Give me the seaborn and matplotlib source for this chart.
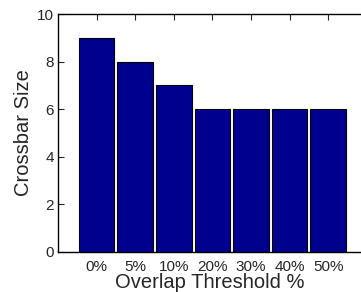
import matplotlib
matplotlib.use("Agg")
import matplotlib.pyplot as plt
import seaborn as sns
import pandas as pd

# data
thresholds = ["0%", "5%", "10%", "20%", "30%", "40%", "50%"]
crossbar_size = [9, 8, 7, 6, 6, 6, 6]

df = pd.DataFrame({"threshold": thresholds, "size": crossbar_size})

sns.set_style("white")
plt.rcParams["font.family"] = ["Liberation Sans", "DejaVu Sans"]

fig = plt.figure(figsize=(3.61, 2.92), dpi=100)
ax = fig.add_axes([0.1607, 0.137, 0.8393, 0.815])

sns.barplot(data=df, x="threshold", y="size", ax=ax, color="#00008F",
            saturation=1, width=0.92, edgecolor="black", linewidth=0.8)

ax.set_xlim(-1, 6.85)
ax.set_ylim(0, 10)
ax.set_yticks([0, 2, 4, 6, 8, 10])
ax.set_xlabel("Overlap Threshold %", fontsize=14.5, labelpad=-1)
ax.set_ylabel("Crossbar Size", fontsize=14.5, labelpad=3)
ax.tick_params(axis="both", direction="in", length=4, width=0.8,
               labelsize=11, top=True, left=True, bottom=True, pad=3)
ax.tick_params(axis="x", pad=6)

for side in ["left", "top", "bottom"]:
    ax.spines[side].set_color("black")
    ax.spines[side].set_linewidth(1.0)
ax.spines["right"].set_visible(False)

fig.savefig("out.png", dpi=100)
